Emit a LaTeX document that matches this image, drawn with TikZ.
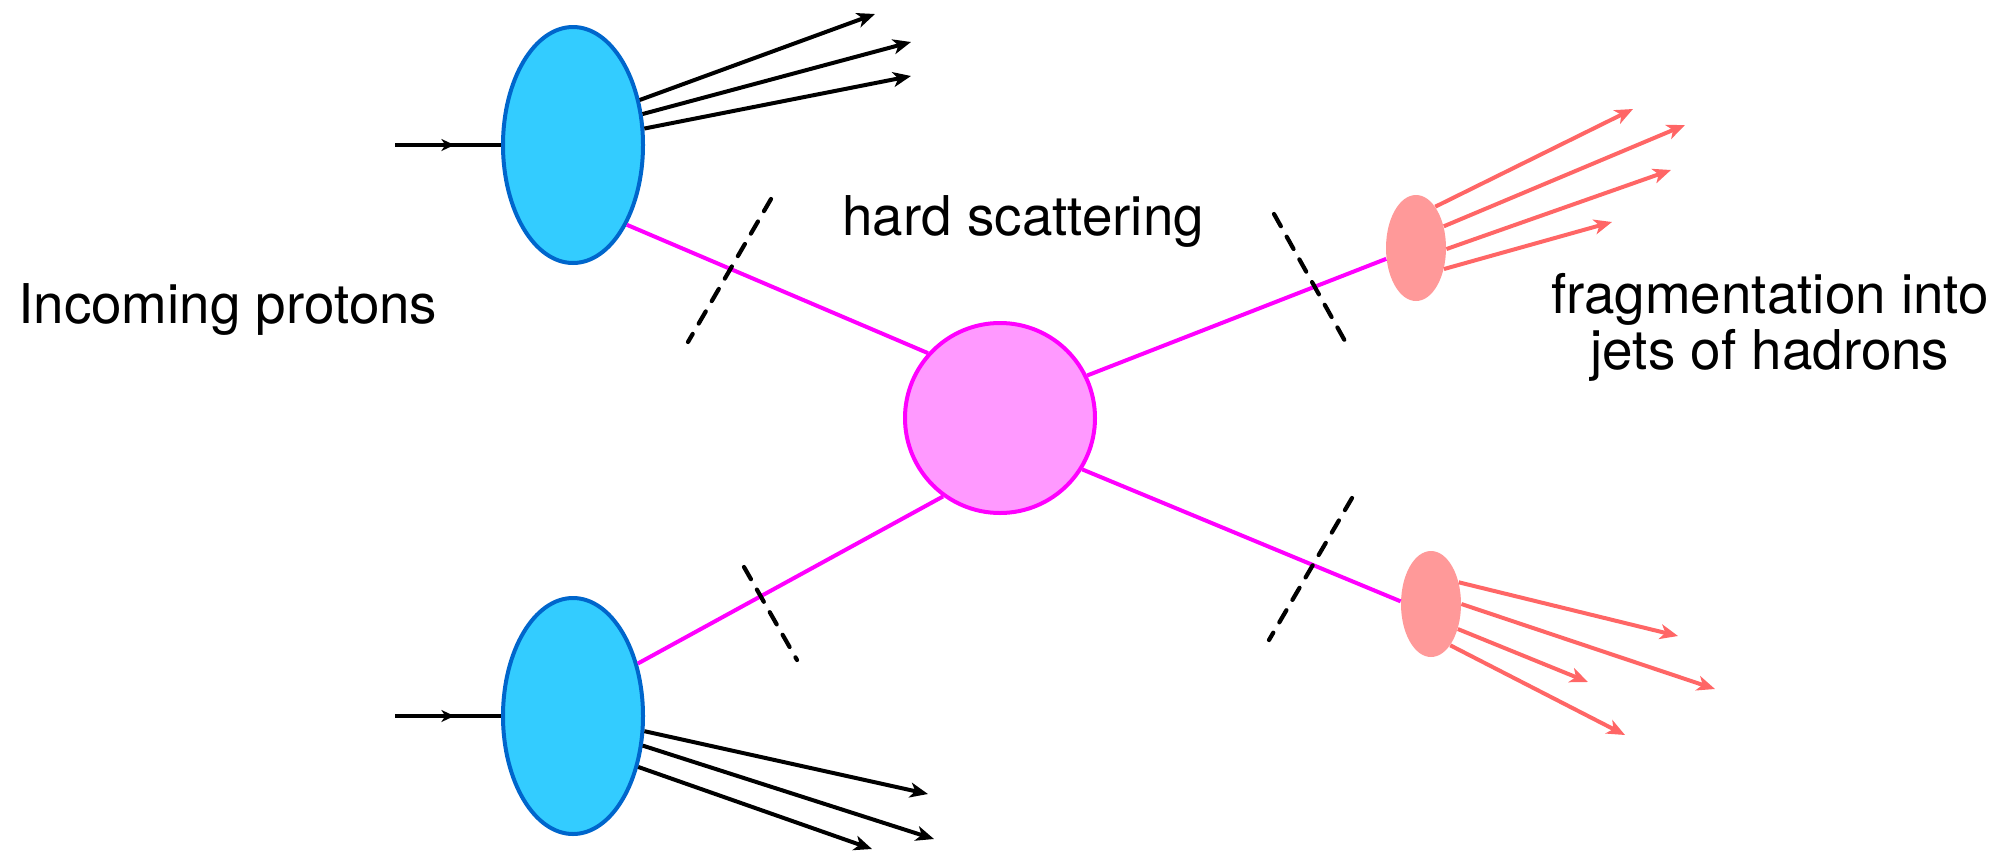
\documentclass[tikz,border=0pt]{standalone}
\usepackage{fontspec}
\setmainfont{TeX Gyre Heros}
\usetikzlibrary{arrows.meta,shapes.geometric,decorations.markings}
\definecolor{protonfill}{HTML}{33CCFF}
\definecolor{protonedge}{HTML}{0066CC}
\definecolor{partonline}{HTML}{FF00FF}
\definecolor{hardfill}{HTML}{FF99FF}
\definecolor{jetfill}{HTML}{FF9999}
\definecolor{jetline}{HTML}{FF6666}
\tikzset{
  proton/.style={ellipse, draw=protonedge, fill=protonfill, line width=2pt,
    minimum width=70pt, minimum height=118pt, inner sep=0pt},
  hardblob/.style={circle, draw=partonline, fill=hardfill, line width=2pt,
    minimum size=95pt, inner sep=0pt},
  jetblob/.style={ellipse, fill=jetfill, minimum width=30pt, minimum height=53pt,
    inner sep=0pt},
  beam/.style={line width=2pt, postaction={decorate},
    decoration={markings,
      mark=at position 0.56 with {\arrow{Stealth[length=6.5pt,width=6pt,inset=2pt]}}}},
  hadron/.style={line width=2pt, -{Stealth[length=9pt,width=7.5pt,inset=2.5pt]}},
  jethadron/.style={hadron, draw=jetline},
  parton/.style={draw=partonline, line width=2pt},
  cut/.style={line width=2.1pt, dash pattern=on 7pt off 6pt, line cap=round},
  txt/.style={inner sep=0pt, font=\fontsize{27.4pt}{28pt}\selectfont}
}
\begin{document}
\begin{tikzpicture}[x=0.5pt, y=-0.5pt]
  \useasboundingbox (0,0) rectangle (1993,852);

  % blobs
  \node[proton] (pt) at (573,145) {};
  \node[proton] (pb) at (573,716) {};
  \node[hardblob] (hs) at (1000,418) {};
  \node[jetblob] (jt) at (1416,248) {};
  \node[jetblob] (jb) at (1431,604) {};

  % free ends
  \coordinate (ptin) at (395,145);
  \coordinate (pbin) at (395,716);
  \coordinate (pt1) at (875,14);
  \coordinate (pt2) at (911,42);
  \coordinate (pt3) at (911,76);
  \coordinate (pb1) at (928,794);
  \coordinate (pb2) at (934,839);
  \coordinate (pb3) at (872,849);
  \coordinate (jt1) at (1633,109);
  \coordinate (jt2) at (1685,125);
  \coordinate (jt3) at (1671,170);
  \coordinate (jt4) at (1612,222);
  \coordinate (jb1) at (1678,636);
  \coordinate (jb2) at (1715,689);
  \coordinate (jb3) at (1588,682);
  \coordinate (jb4) at (1625,735);
  \coordinate (c1a) at (771,199);
  \coordinate (c1b) at (688,342);
  \coordinate (c2a) at (744,567);
  \coordinate (c2b) at (797,660);
  \coordinate (c3a) at (1274,214);
  \coordinate (c3b) at (1350,350);
  \coordinate (c4a) at (1352,498);
  \coordinate (c4b) at (1269,640);

  % incoming protons
  \draw[beam] (ptin) -- (pt.west);
  \draw[beam] (pbin) -- (pb.west);

  % proton remnants
  \draw[hadron] (pt.34) -- (pt1);
  \draw[hadron] (pt.24.6) -- (pt2);
  \draw[hadron] (pt.13.3) -- (pt3);
  \draw[hadron] (pb.-12.5) -- (pb1);
  \draw[hadron] (pb.-23.2) -- (pb2);
  \draw[hadron] (pb.-38.8) -- (pb3);

  % partons into and out of the hard process
  \draw[parton] (pt.-56) -- (hs.138.3);
  \draw[parton] (pb.39.7) -- (hs.234);
  \draw[parton] (hs.26.3) -- (jt.200);
  \draw[parton] (hs.-32.4) -- (jb.175);

  % factorisation cuts
  \draw[cut] (c1a) -- (c1b);
  \draw[cut] (c2a) -- (c2b);
  \draw[cut] (c3a) -- (c3b);
  \draw[cut] (c4a) -- (c4b);

  % jets
  \draw[jethadron] (jt.65) -- (jt1);
  \draw[jethadron] (jt.38) -- (jt2);
  \draw[jethadron] (jt.-2) -- (jt3);
  \draw[jethadron] (jt.-37) -- (jt4);
  \draw[jethadron] (jb.38) -- (jb1);
  \draw[jethadron] (jb.0) -- (jb2);
  \draw[jethadron] (jb.-43) -- (jb3);
  \draw[jethadron] (jb.-65) -- (jb4);

  % labels
  \node[txt, anchor=base west] (inc) at (18,323) {Incoming protons};
  \node[txt, anchor=base west] (hard) at (842,235) {hard scattering};
  \node[txt, anchor=base] (frag) at (1770,313) {fragmentation into};
  \node[txt, anchor=base] (jets) at (1770,369) {jets of hadrons};
\end{tikzpicture}
\end{document}
